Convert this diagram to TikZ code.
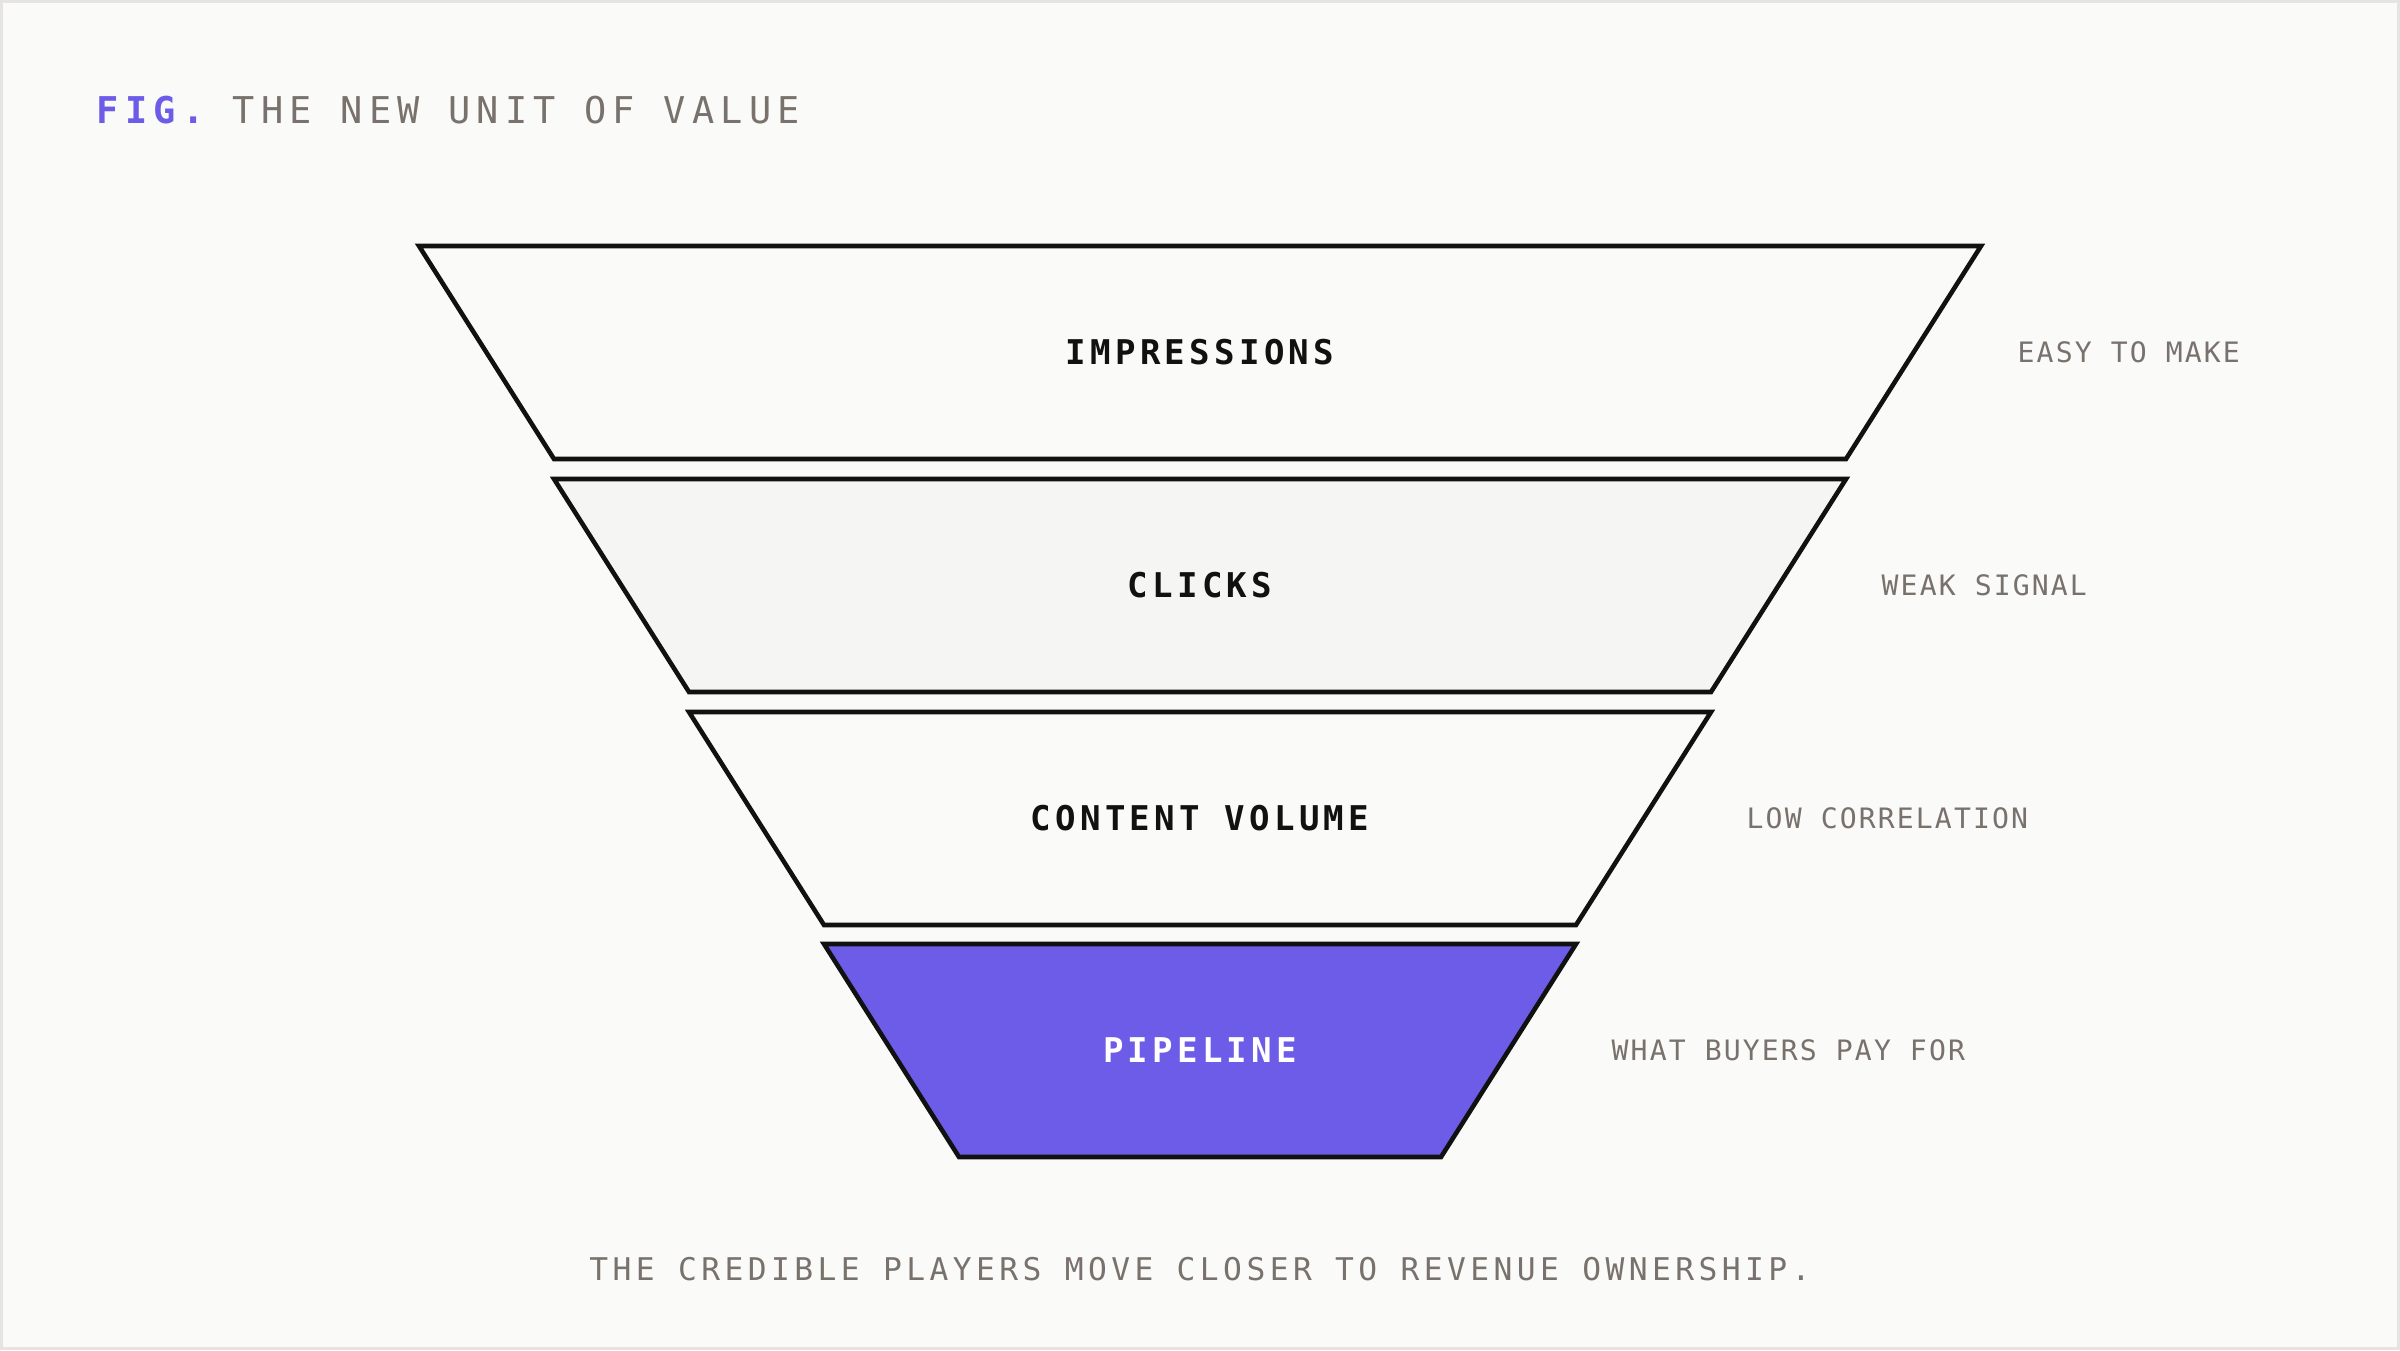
\documentclass[tikz,border=0pt]{standalone}
\usepackage{fontspec}
\setmonofont{DejaVu Sans Mono}
\newfontfamily\titlefont[LetterSpace=17]{DejaVu Sans Mono}
\newfontfamily\layerfont[LetterSpace=12.5]{DejaVu Sans Mono}
\newfontfamily\notefont[LetterSpace=7.5]{DejaVu Sans Mono}
\newfontfamily\capfont[LetterSpace=14.2]{DejaVu Sans Mono}

\definecolor{paper}{HTML}{FAFAF8}
\definecolor{framegrey}{HTML}{E5E4E1}
\definecolor{paleband}{HTML}{F5F5F4}
\definecolor{figpurple}{HTML}{6C5CE7}
\definecolor{notegrey}{HTML}{78716C}
\definecolor{ink}{HTML}{111111}

\tikzset{
  layer/.style={draw=ink, line width=1.3pt, line join=miter},
  layerlabel/.style={font=\layerfont\bfseries\fontsize{9.7}{12}\selectfont, text=ink, inner sep=0pt},
  note/.style={font=\notefont\fontsize{8}{10}\selectfont, text=notegrey, anchor=west, inner sep=0pt},
}

\begin{document}
\begin{tikzpicture}
  \fill[framegrey] (0,0) rectangle (24,13.5);
  \fill[paper] (0.03,0.03) rectangle (23.97,13.47);
  \useasboundingbox (0,0) rectangle (24,13.5);

  % funnel layers
  \draw[layer, fill=paper] (4.19,11.04) -- (19.81,11.04) -- (18.46,8.91) -- (5.54,8.91) -- cycle;
  \draw[layer, fill=paleband] (5.54,8.71) -- (18.46,8.71) -- (17.11,6.58) -- (6.89,6.58) -- cycle;
  \draw[layer, fill=paper] (6.89,6.38) -- (17.11,6.38) -- (15.76,4.25) -- (8.24,4.25) -- cycle;
  \draw[layer, fill=figpurple] (8.24,4.06) -- (15.76,4.06) -- (14.41,1.93) -- (9.59,1.93) -- cycle;

  \node[layerlabel] (impressions) at (12,9.975) {IMPRESSIONS};
  \node[layerlabel] (clicks) at (12,7.645) {CLICKS};
  \node[layerlabel] (content) at (12,5.315) {CONTENT VOLUME};
  \node[layerlabel, text=white] (pipeline) at (12,2.995) {PIPELINE};

  % side notes
  \node[note] (easy) at (20.17,9.975) {EASY TO MAKE};
  \node[note] (weak) at (18.81,7.645) {WEAK SIGNAL};
  \node[note] (low) at (17.46,5.315) {LOW CORRELATION};
  \node[note] (buyers) at (16.11,2.995) {WHAT BUYERS PAY FOR};

  \node[anchor=base west, inner sep=0pt, font=\titlefont\fontsize{10.5}{13}\selectfont, text=notegrey] (title) at (0.96,12.26)
    {\textcolor{figpurple}{\bfseries FIG.} THE NEW UNIT OF VALUE};
  \node[anchor=base, inner sep=0pt, font=\capfont\fontsize{8.9}{11}\selectfont, text=notegrey] (caption) at (12,0.70)
    {THE CREDIBLE PLAYERS MOVE CLOSER TO REVENUE OWNERSHIP.};
\end{tikzpicture}
\end{document}
